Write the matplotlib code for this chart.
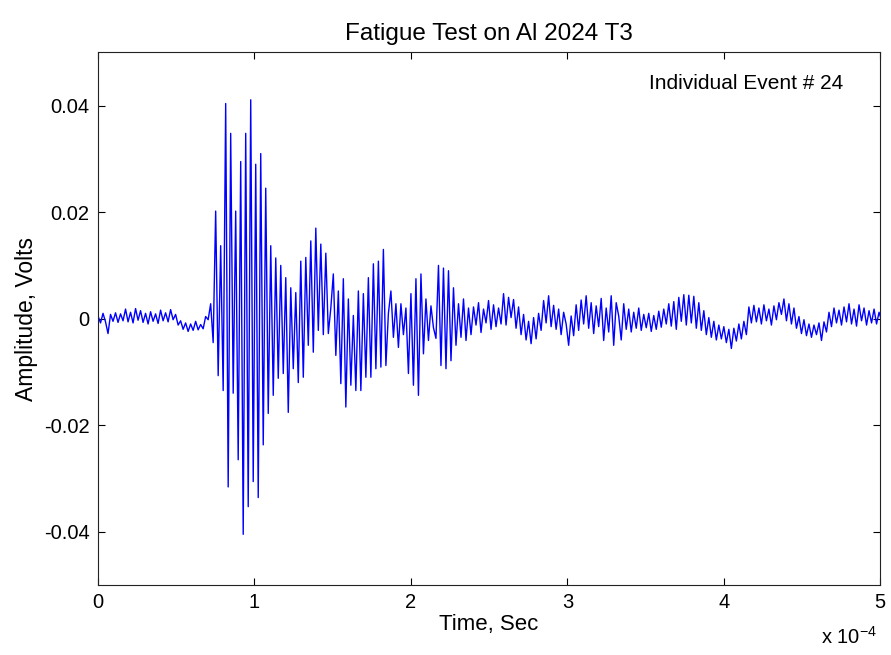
import numpy as np
import matplotlib
matplotlib.use('Agg')
import matplotlib.pyplot as plt

# 波形データ（図から読み取った値, 1.6 us 間隔）
dt = 1.6e-6
amp = [
    # 0 - 0.7e-4 : ベースライン
    0.0005, -0.0008, 0.0010, -0.0006, -0.0028, 0.0008, -0.0005, 0.0011, -0.0007, 0.0009,
    -0.0004, 0.0018, -0.0006, 0.0012, -0.0008, 0.0019, -0.0003, 0.0015, -0.0007, 0.0010,
    -0.0010, 0.0013, -0.0005, 0.0009, -0.0009, 0.0016, -0.0004, 0.0011, -0.0006, 0.0017,
    -0.0002, 0.0008, -0.0012, -0.0004, -0.0020, -0.0008, -0.0024, -0.0010, -0.0022, -0.0005,
    -0.0021, -0.0011, -0.0019, 0.0004, -0.0002, 0.0028, -0.0045,
    # 0.75e-4 - : バースト
    0.0202, -0.0107, 0.0137, -0.0135, 0.0404, -0.0316, 0.0348, -0.0140, 0.0202, -0.0265,
    0.0295, -0.0405, 0.0348, -0.0353, 0.0411, -0.0306, 0.0290, -0.0336, 0.0310, -0.0237,
    0.0245, -0.0178, 0.0137, -0.0144, 0.0114, -0.0112, 0.0100, -0.0103, 0.0077, -0.0176,
    0.0058, -0.0094, 0.0049, -0.0120, 0.0108, -0.0110, 0.0115, -0.0050, 0.0146, -0.0063,
    0.0170, -0.0022, 0.0140, -0.0030, 0.0123, -0.0028, 0.0020, 0.0084, -0.0069, 0.0052,
    -0.0122, 0.0075, -0.0166, 0.0037, -0.0125, 0.0006, -0.0135, 0.0052, -0.0135, 0.0047,
    -0.0110, 0.0077, -0.0110, 0.0103, -0.0094, 0.0108, -0.0091, 0.0130, -0.0088, 0.0010,
    0.0052, -0.0035, 0.0028, -0.0054, 0.0028, -0.0030, 0.0020, -0.0103, 0.0047, -0.0125,
    0.0075, -0.0144, 0.0084, -0.0066, 0.0037, -0.0041, 0.0024, -0.0017, -0.0037, 0.0100,
    -0.0088, 0.0095, -0.0094, 0.0090, -0.0079, 0.0058, -0.0050, 0.0028, -0.0035, 0.0037,
    -0.0041, 0.0020,
    # 2.4e-4 - : 残響
    -0.0030, 0.0022, -0.0012, 0.0030, -0.0026, 0.0018, -0.0008, 0.0034, -0.0020, 0.0026,
    -0.0015, 0.0020, -0.0010, 0.0047, -0.0012, 0.0040, 0.0002, 0.0036, -0.0018, 0.0022,
    -0.0030, 0.0008, -0.0040, -0.0005, -0.0047, 0.0002, -0.0038, 0.0010, -0.0022, 0.0034,
    -0.0008, 0.0043, -0.0015, 0.0025, -0.0020, 0.0018, -0.0030, 0.0012, -0.0010, -0.0050,
    0.0005, -0.0032, 0.0026, -0.0022, 0.0035, -0.0010, 0.0043, -0.0018, 0.0030, -0.0028,
    0.0024, -0.0015, 0.0038, -0.0041, 0.0020, -0.0025, 0.0043, -0.0050, 0.0030, 0.0005,
    -0.0040, 0.0028, -0.0020, 0.0018, -0.0025, 0.0012, -0.0018, 0.0020, -0.0022, 0.0008,
    -0.0017, 0.0010, -0.0024, 0.0006, -0.0020, 0.0014, -0.0016, 0.0018, -0.0010, 0.0028,
    -0.0014, 0.0032, -0.0020, 0.0040, -0.0005, 0.0045, -0.0012, 0.0044, -0.0008, 0.0042,
    -0.0018, 0.0030, -0.0022, 0.0015, -0.0030, 0.0002, -0.0035, -0.0005, -0.0040, -0.0012,
    -0.0038, -0.0015, -0.0045, -0.0020, -0.0056, -0.0018, -0.0042, -0.0010, -0.0038, -0.0005,
    -0.0030, 0.0022, -0.0008, 0.0025, -0.0006, 0.0020, -0.0010, 0.0026, -0.0004, 0.0018,
    -0.0012, 0.0024, -0.0002, 0.0030, 0.0008, 0.0037, -0.0004, 0.0028, -0.0010, 0.0020,
    -0.0018, 0.0004, -0.0028, -0.0002, -0.0032, -0.0010, -0.0035, -0.0012, -0.0030, -0.0008,
    -0.0041, -0.0006, -0.0025, 0.0012, -0.0015, 0.0020, -0.0008, 0.0016, -0.0012, 0.0022,
    -0.0006, 0.0028, -0.0010, 0.0018, -0.0014, 0.0026, -0.0004, 0.0020, -0.0012, 0.0015,
    -0.0008, 0.0018, -0.0010, 0.0012, -0.0004,
]
t = np.arange(len(amp)) * dt

xticks = [0, 1e-4, 2e-4, 3e-4, 4e-4, 5e-4]
xtick_labels = ['0', '1', '2', '3', '4', '5']
yticks = [-0.04, -0.02, 0, 0.02, 0.04]
ytick_labels = ['-0.04', '-0.02', '0', '0.02', '0.04']

plt.rcParams['font.family'] = ['Liberation Sans', 'DejaVu Sans']
plt.rcParams['axes.unicode_minus'] = False
plt.rcParams['mathtext.fontset'] = 'custom'
plt.rcParams['mathtext.rm'] = 'Liberation Sans'

fig = plt.figure(figsize=(8.91, 6.55), dpi=100)
ax = fig.add_axes([0.110, 0.107, 0.878, 0.813])
ax.plot(t, amp, color='#0000ff', linewidth=1.0)

ax.set_xlim(0, 5e-4)
ax.set_ylim(-0.05, 0.05)
ax.set_xticks(xticks)
ax.set_xticklabels(xtick_labels)
ax.set_yticks(yticks)
ax.set_yticklabels(ytick_labels)
ax.tick_params(direction='in', length=5, width=0.8, top=True, right=True, labelsize=14.5, pad=6)
for s in ax.spines.values():
    s.set_linewidth(0.8)
    s.set_color('#222222')

ax.set_title('Fatigue Test on Al 2024 T3', fontsize=17.5, pad=9)
ax.set_xlabel('Time, Sec', fontsize=16, labelpad=1)
ax.set_ylabel('Amplitude, Volts', fontsize=16.5, labelpad=4)
ax.text(0.704, 0.942, 'Individual Event # 24', transform=ax.transAxes, fontsize=15, va='center')
ax.text(0.924, -0.098, 'x 10$^{-4}$', transform=ax.transAxes, fontsize=14.5, va='center')

fig.savefig('out.png', dpi=100)
